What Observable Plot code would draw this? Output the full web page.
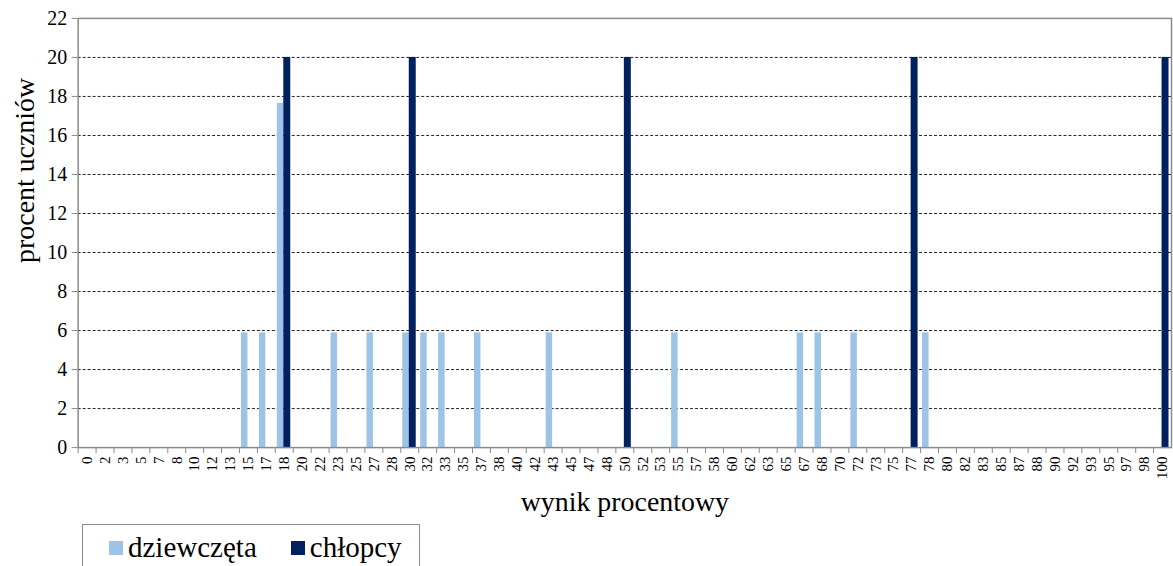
<!DOCTYPE html>
<html>
<head>
<meta charset="utf-8">
<script src="https://cdn.jsdelivr.net/npm/d3@7"></script>
<script src="https://cdn.jsdelivr.net/npm/@observablehq/plot@0.6"></script>
<style>
  html, body { margin: 0; padding: 0; background: #fff; overflow: hidden; width: 1173px; height: 566px; }
  #chart { position: absolute; left: 0; top: 0; }
  .legend { position: absolute; left: 82px; top: 524px; width: 338px; height: 50px; border: 1.5px solid #8a8a8a; box-sizing: border-box;
    font-family: "Liberation Serif", "Times New Roman", serif; font-size: 29px; color: #000; display: flex; align-items: flex-start; padding-top: 7px; padding-left: 26px; }
  .legend .item { display: flex; align-items: center; margin-right: 34px; line-height: 30px; }
  .legend .sw { width: 14px; height: 14px; margin-right: 5px; margin-top: 2px; }
</style>
</head>
<body>
<div id="chart"></div>
<div class="legend" id="legend"></div>
<script>
const categories = [0,2,3,5,7,8,10,12,13,15,17,18,20,22,23,25,27,28,30,32,33,35,37,38,40,42,43,45,47,48,50,52,53,55,57,58,60,62,63,65,67,68,70,72,73,75,77,78,80,82,83,85,87,88,90,92,93,95,97,98,100];
const girlsScores = [15,17,18,23,27,30,32,33,37,43,55,67,68,72,78];
const girlsValues = [5.88,5.88,17.65,5.88,5.88,5.88,5.88,5.88,5.88,5.88,5.88,5.88,5.88,5.88,5.88];
const boysScores = [18,30,50,77,100];
const boysValues = [20,20,20,20,20];
const yTicks = [0,2,4,6,8,10,12,14,16,18,20,22];
const gridTicks = [2,4,6,8,10,12,14,16,18,20];
const seriesNames = ["dziewczęta", "chłopcy"];
const seriesColors = ["#9dc3e6", "#002060"];

const girls = girlsScores.map((s, i) => ({score: String(s), value: girlsValues[i]}));
const boys = boysScores.map((s, i) => ({score: String(s), value: boysValues[i]}));
const font = "'Liberation Serif', 'Times New Roman', serif";

const chart = Plot.plot({
  width: 1178,
  height: 530,
  marginLeft: 78,
  marginRight: 2,
  marginTop: 18,
  marginBottom: 81,
  style: {fontFamily: font, color: "#000", background: "#fff", overflow: "visible"},
  x: {type: "band", domain: categories.map(String), padding: 0, axis: null},
  y: {domain: [0, 22], axis: null},
  marks: [
    Plot.ruleY(gridTicks, {stroke: "#222", strokeWidth: 1, strokeDasharray: "3,2"}),
    Plot.barY(girls, {x: "score", y: "value", fill: seriesColors[0], insetLeft: 2, insetRight: 9.5}),
    Plot.barY(boys, {x: "score", y: "value", fill: seriesColors[1], insetLeft: 8.5, insetRight: 2.5}),
    Plot.frame({stroke: "#8a8a8a", strokeWidth: 1.5}),
    Plot.axisX({tickSize: 6, dx: -9, tickFormat: () => "", stroke: "#8a8a8a", label: null}),
    Plot.axisX({tickSize: 0, tickPadding: 9, tickRotate: -90, fontSize: 15, fontFamily: font, label: null, fill: "#000"}),
    Plot.axisY({ticks: yTicks, tickSize: 6, tickPadding: 5, fontSize: 20, fontFamily: font, stroke: "#8a8a8a", label: null, fill: "#000"}),
    Plot.text(["procent uczniów"], {frameAnchor: "left", dx: -53, dy: 30, rotate: -90, fontSize: 28, fontFamily: font, fill: "#000"}),
    Plot.text(["wynik procentowy"], {frameAnchor: "bottom", dy: 64, fontSize: 28, fontFamily: font, fill: "#000"})
  ]
});
document.getElementById("chart").appendChild(chart);

const legend = document.getElementById("legend");
seriesNames.forEach((name, i) => {
  const item = document.createElement("div");
  item.className = "item";
  const sw = document.createElement("span");
  sw.className = "sw";
  sw.style.background = seriesColors[i];
  const label = document.createElement("span");
  label.textContent = name;
  item.appendChild(sw);
  item.appendChild(label);
  legend.appendChild(item);
});
</script>
</body>
</html>
